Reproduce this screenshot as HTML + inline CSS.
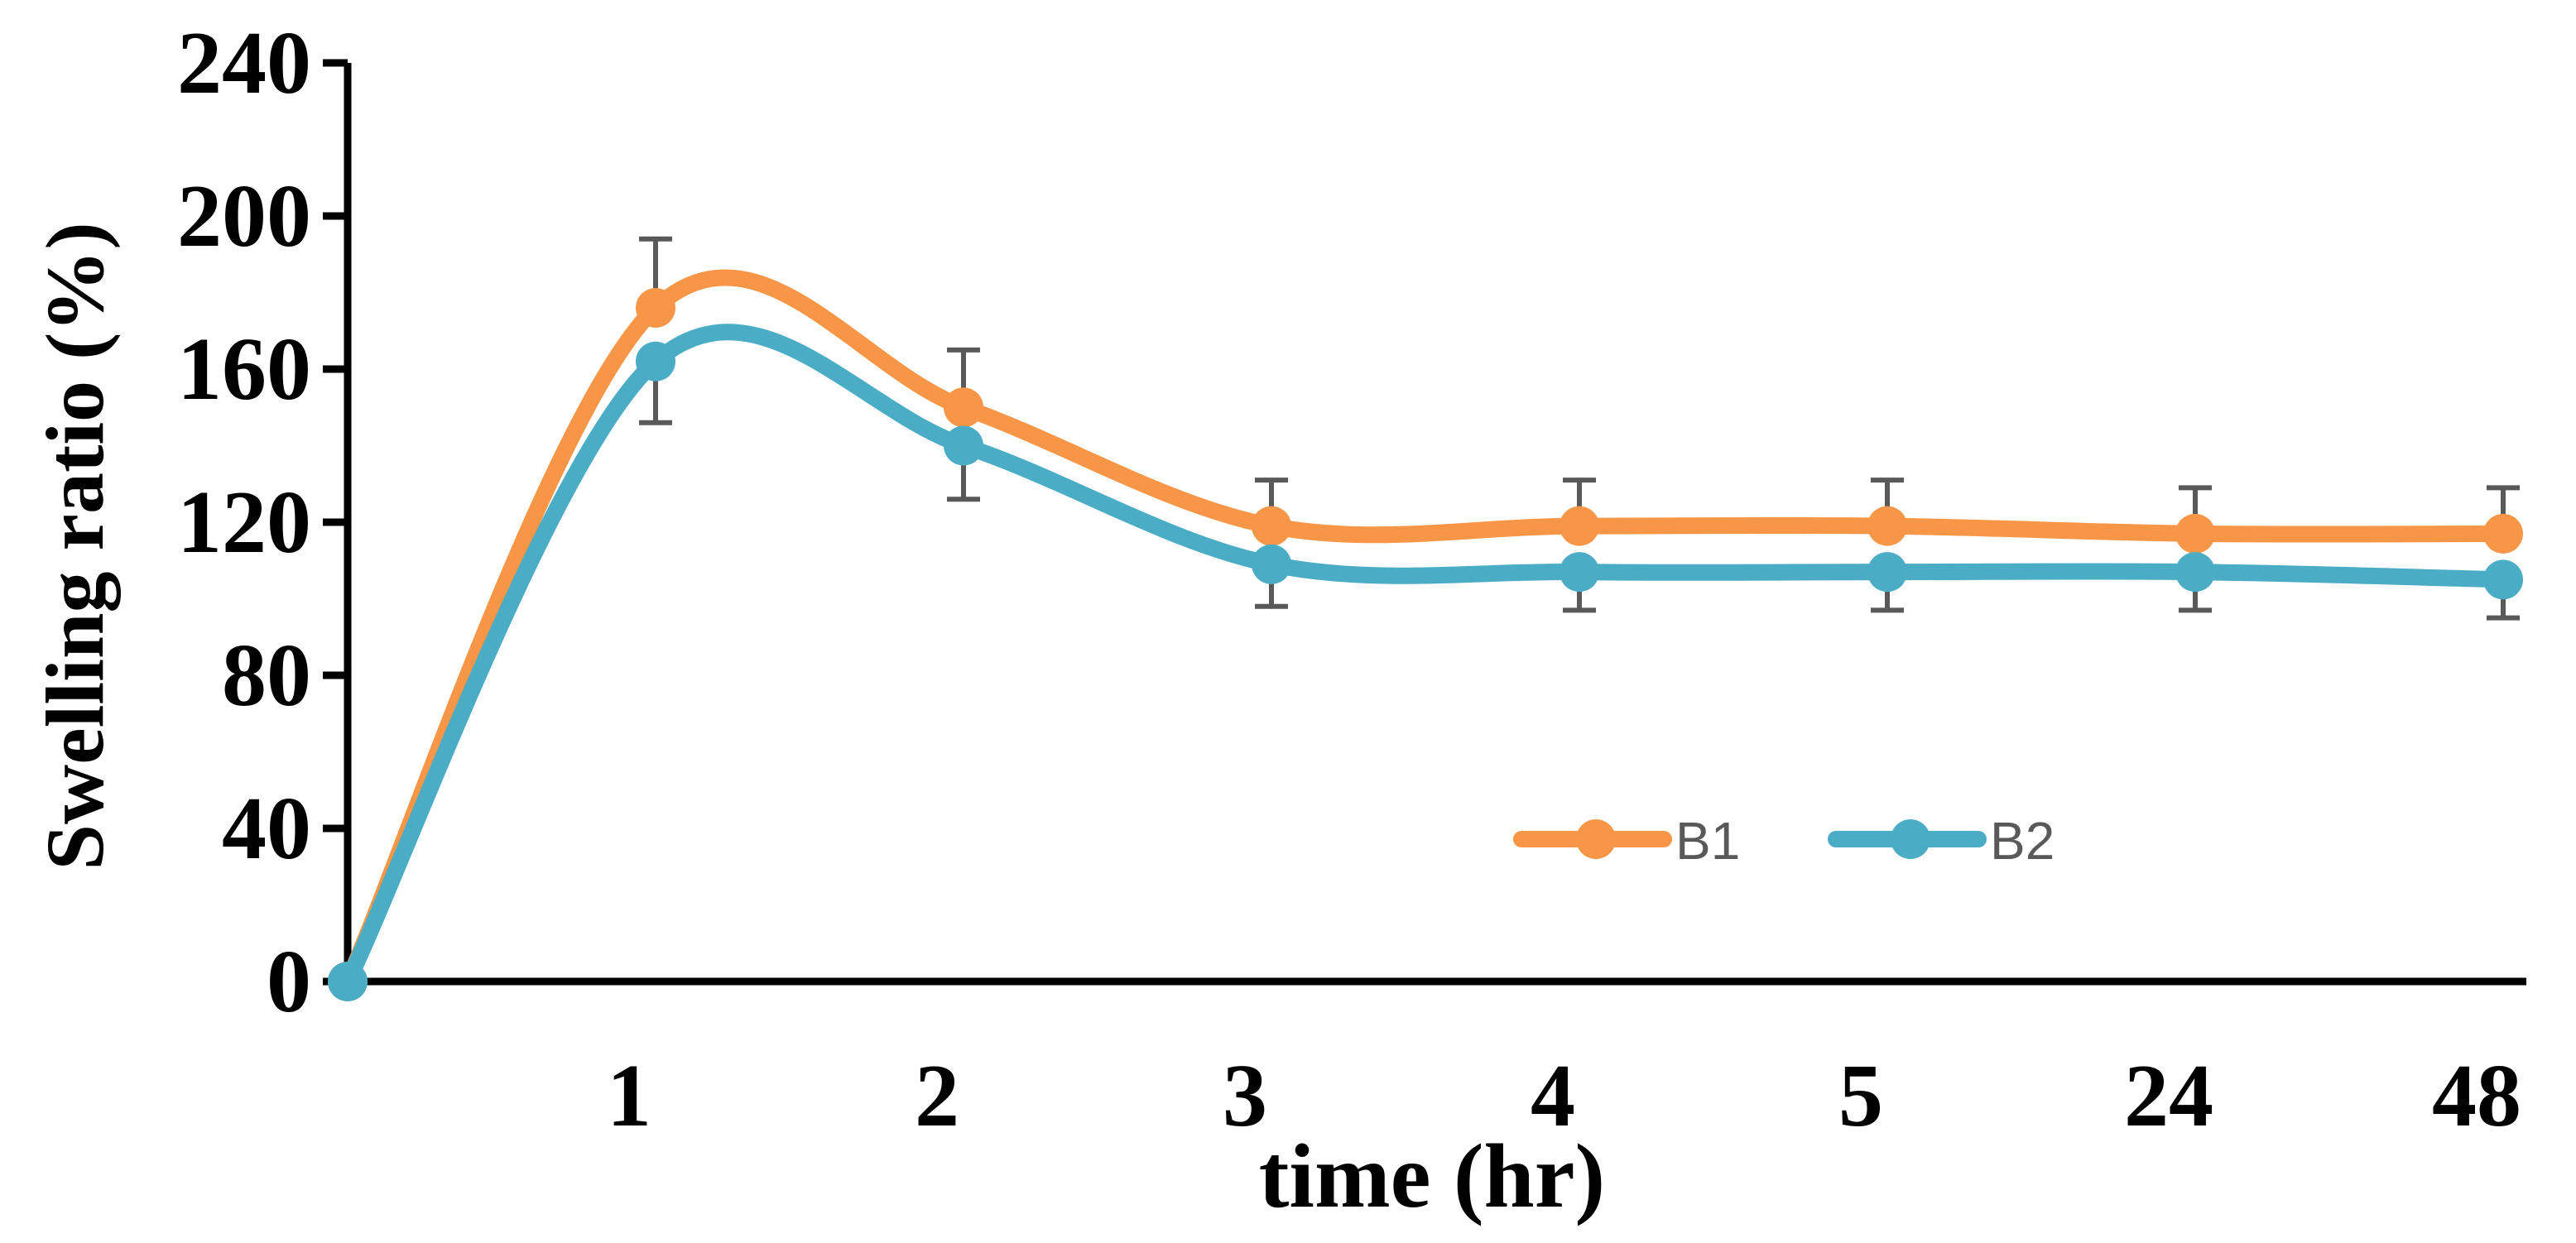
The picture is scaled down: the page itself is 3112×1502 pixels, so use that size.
<!DOCTYPE html>
<html><head><meta charset="utf-8"><style>
html,body{margin:0;padding:0;background:#fff}
svg{display:block}
</style></head><body>
<svg id="chart" width="3112" height="1502" viewBox="0 0 3112 1502" xmlns="http://www.w3.org/2000/svg">
<rect width="3112" height="1502" fill="#fff"/>
<g id="plot"></g>
</svg>
<script>
const categories = ["", "1", "2", "3", "4", "5", "24", "48"];
const b1Values = [0, 176, 150, 119, 119, 119, 117, 117];
const b2Values = [0, 162, 140, 109, 107, 107, 107, 105];
const b1Errors = [0, 18, 15, 12, 12, 12, 12, 12];
const b2Errors = [0, 16, 14, 11, 10, 10, 10, 10];
const yTicks = [0, 40, 80, 120, 160, 200, 240];

const NS = "http://www.w3.org/2000/svg";
const g = document.getElementById("plot");
const x0 = 420, dx = 372, yBase = 1186, yTop = 76, yMax = 240;
function xs(i){ return x0 + i*dx; }
function ys(v){ return yBase - v/yMax*(yBase-yTop); }
function mk(tag, attrs){ const e=document.createElementNS(NS,tag); for(const k in attrs) e.setAttribute(k,attrs[k]); g.appendChild(e); return e; }

let e = mk("line",{x1:420,y1:ys(240),x2:420,y2:yBase+4,stroke:"#000","stroke-width":9});


e = mk("line",{x1:416,y1:yBase,x2:3052,y2:yBase,stroke:"#000","stroke-width":9});


yTicks.forEach(t=>{
  let tk = mk("line",{x1:390,y1:ys(t),x2:420,y2:ys(t),stroke:"#000","stroke-width":9});
  
  
  let tl = mk("text",{x:376,y:ys(t)+36,"text-anchor":"end","font-family":"Liberation Serif, serif","font-weight":"bold","font-size":108,fill:"#000"});
  tl.textContent = t;
  
  
});
categories.forEach((c,i)=>{
  if(!c) return;
  let tl = mk("text",{x:xs(i)-32,y:1360,"text-anchor":"middle","font-family":"Liberation Serif, serif","font-weight":"bold","font-size":108,fill:"#000"});
  tl.textContent = c;
  
  
});
e = mk("text",{x:1730,y:1458,"text-anchor":"middle","font-family":"Liberation Serif, serif","font-weight":"bold","font-size":110,fill:"#000"});
e.textContent = "time (hr)";


e = mk("text",{x:0,y:0,"text-anchor":"middle","font-family":"Liberation Serif, serif","font-weight":"bold","font-size":100,fill:"#000",transform:"translate(124,660) rotate(-90)"});
e.textContent = "Swelling ratio (%)";



function smooth(vals){
  const p = vals.map((v,i)=>[xs(i),ys(v)]);
  let d = `M${p[0][0]},${p[0][1]}`;
  for(let i=0;i<p.length-1;i++){
    const a=p[Math.max(i-1,0)], b=p[i], c=p[i+1], n=p[Math.min(i+2,p.length-1)];
    const c1=[b[0]+(c[0]-a[0])/6, b[1]+(c[1]-a[1])/6];
    const c2=[c[0]-(n[0]-b[0])/6, c[1]-(n[1]-b[1])/6];
    d += ` C${c1[0]},${c1[1]} ${c2[0]},${c2[1]} ${c[0]},${c[1]}`;
  }
  return d;
}
function errbars(vals, errs, dir, name){
  vals.forEach((v,i)=>{
    if(!errs[i]) return;
    const y1=ys(v), y2=ys(v+dir*errs[i]);
    let l = mk("line",{x1:xs(i),y1:y1,x2:xs(i),y2:y2,stroke:"#595959","stroke-width":6});
    
    
    let cp = mk("line",{x1:xs(i)-20,y1:y2,x2:xs(i)+20,y2:y2,stroke:"#595959","stroke-width":6});
    
    
  });
}
errbars(b1Values,b1Errors,1,'b1-error-bar');
errbars(b2Values,b2Errors,-1,'b2-error-bar');
function series(vals,color,name){
  let p = mk("path",{d:smooth(vals),fill:"none",stroke:color,"stroke-width":20,"stroke-linecap":"round"});
  
  
  vals.forEach((v,i)=>{
    let c = mk("circle",{cx:xs(i),cy:ys(v),r:24,fill:color});
    
    
  });
}
series(b1Values,"#f79646","b1");
series(b2Values,"#4bacc6","b2");

function legend(xa,label,color,name){
  let l = mk("line",{x1:xa,y1:1014,x2:xa+172,y2:1014,stroke:color,"stroke-width":20,"stroke-linecap":"round"});
  
  
  let c = mk("circle",{cx:xa+90,cy:1014,r:24,fill:color});
  
  
  let t = mk("text",{x:xa+186,y:1038,"font-family":"Liberation Sans, sans-serif","font-size":64,fill:"#595959"});
  t.textContent = label;
  
  
}
legend(1838,"B1","#f79646","b1");
legend(2218,"B2","#4bacc6","b2");
</script>
</body></html>
